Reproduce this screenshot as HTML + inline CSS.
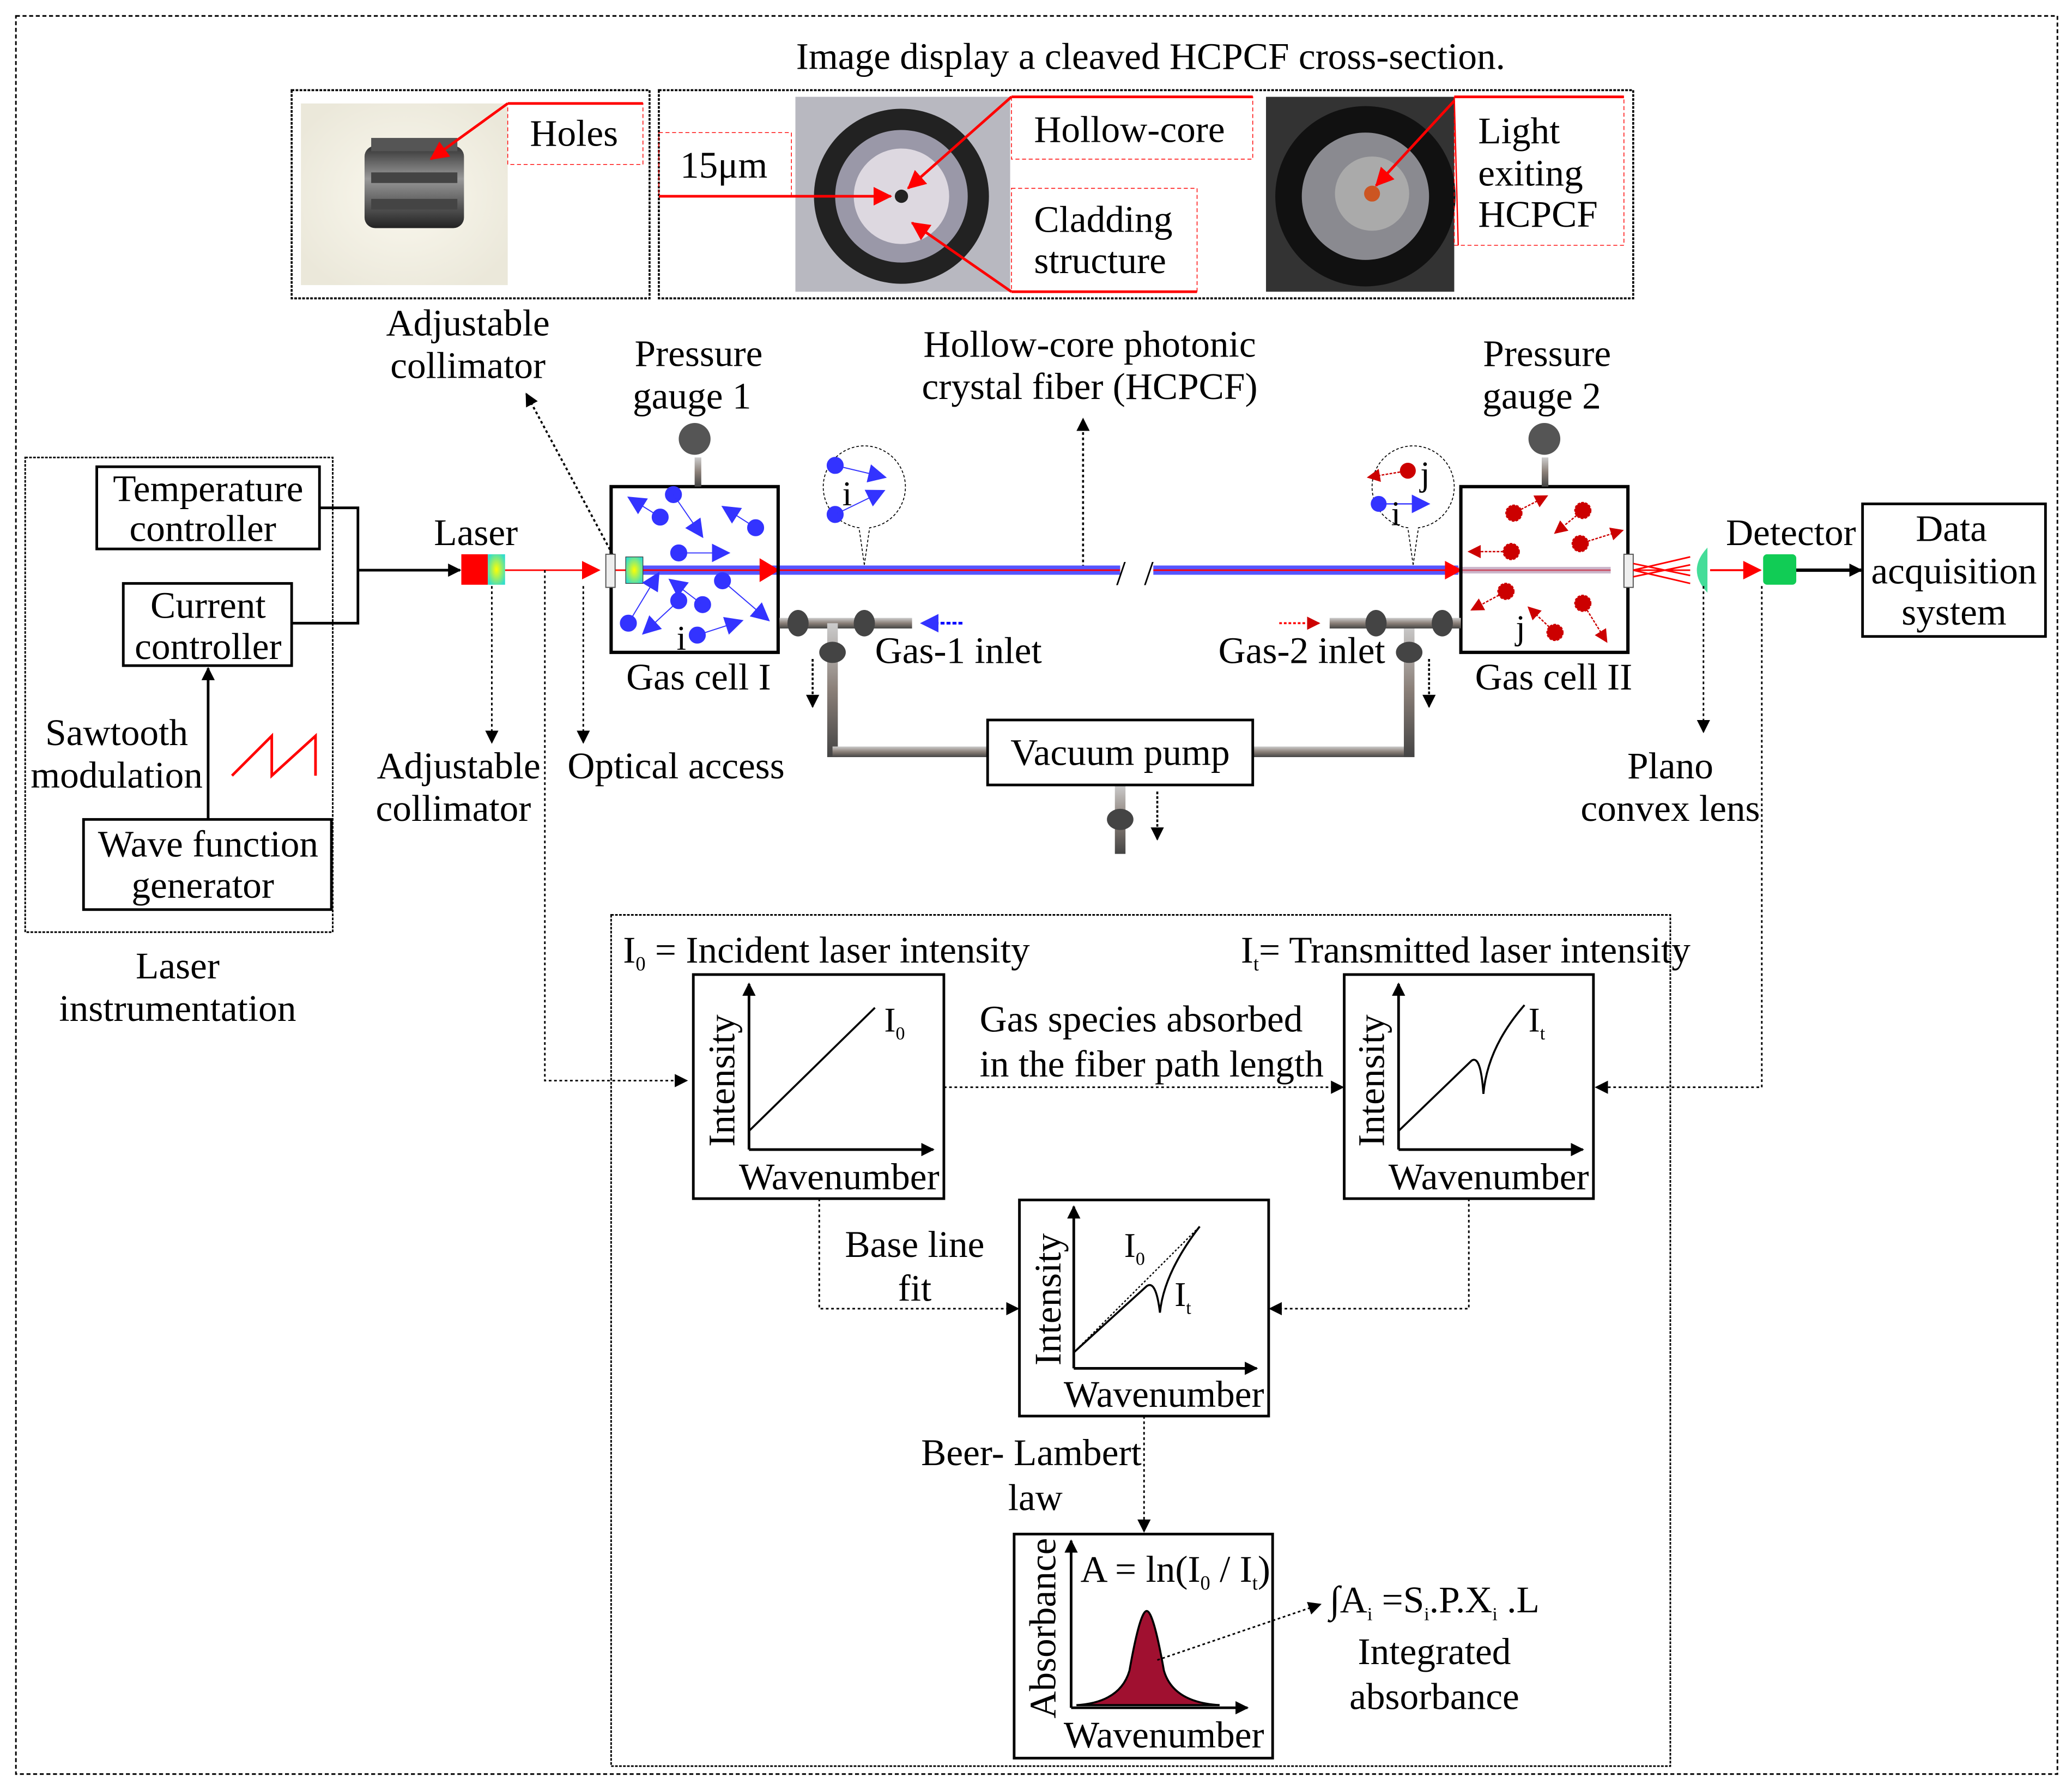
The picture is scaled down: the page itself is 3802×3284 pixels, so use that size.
<!DOCTYPE html>
<html><head><meta charset="utf-8"><style>
html,body{margin:0;padding:0;background:#fff}
svg{display:block}
text{font-family:"Liberation Serif",serif;fill:#000}
text[font-size="26"]{font-size:28.5px}
text[font-size="24"]{font-size:26px}
</style></head><body>
<svg width="3802" height="3284" viewBox="0 0 1563 1350" xmlns="http://www.w3.org/2000/svg">
<defs>
<marker id="ak" markerWidth="10" markerHeight="10" refX="9" refY="5" orient="auto" markerUnits="userSpaceOnUse"><path d="M0,0 L10,5 L0,10z" fill="#000"/></marker>
<marker id="ar" markerWidth="14" markerHeight="14" refX="13" refY="7" orient="auto" markerUnits="userSpaceOnUse"><path d="M0,0 L14,7 L0,14z" fill="#f00"/></marker>
<marker id="ab" markerWidth="14" markerHeight="14" refX="13" refY="7" orient="auto" markerUnits="userSpaceOnUse"><path d="M0,0 L14,7 L0,14z" fill="#33f"/></marker>
<marker id="ard" markerWidth="10" markerHeight="10" refX="9" refY="5" orient="auto" markerUnits="userSpaceOnUse"><path d="M0,0 L10,5 L0,10z" fill="#c00"/></marker>
<radialGradient id="pg" cx="0.5" cy="0.5" r="0.6"><stop offset="0" stop-color="#faf8ee"/><stop offset="1" stop-color="#ebe8da"/></radialGradient>
<linearGradient id="cyl" x1="0" y1="0" x2="0" y2="1"><stop offset="0" stop-color="#333"/><stop offset=".4" stop-color="#999"/><stop offset="1" stop-color="#222"/></linearGradient>
<linearGradient id="pipe" x1="0" y1="0" x2="0" y2="1"><stop offset="0" stop-color="#ccc"/><stop offset=".5" stop-color="#8a7f78"/><stop offset="1" stop-color="#444"/></linearGradient>
<radialGradient id="col" cx=".5" cy=".5" r=".6"><stop offset="0" stop-color="#ff0"/><stop offset="1" stop-color="#3dc"/></radialGradient>
</defs>
<rect width="1563" height="1350" fill="#fff"/>
<rect x="12" y="12" width="1540" height="1326" fill="none" stroke="#000" stroke-width="1.2" stroke-dasharray="3,2"/>

<text x="868" y="52" font-size="26" text-anchor="middle">Image display a cleaved HCPCF cross-section.</text>
<rect x="220" y="68" width="270" height="157" fill="none" stroke="#000" stroke-width="1.5" stroke-dasharray="2,1"/>
<rect x="227" y="78" width="156" height="137" fill="url(#pg)"/>
<rect x="275" y="110" width="75" height="62" rx="8" fill="url(#cyl)"/>
<rect x="280" y="104" width="65" height="10" fill="#555"/><rect x="280" y="130" width="65" height="8" fill="#444"/><rect x="280" y="150" width="65" height="8" fill="#444"/>
<rect x="383" y="78" width="102" height="46" fill="none" stroke="#f00" stroke-width=".6" stroke-dasharray="3,2"/>
<line x1="383" y1="78" x2="485" y2="78" stroke="#f00" stroke-width="2"/>
<line x1="383" y1="78" x2="325" y2="120" stroke="#f00" stroke-width="2" marker-end="url(#ar)"/>
<text x="433" y="110" font-size="26" text-anchor="middle">Holes</text>
<rect x="497" y="68" width="735" height="157" fill="none" stroke="#000" stroke-width="1.5" stroke-dasharray="2,1"/>
<rect x="497" y="100" width="100" height="48" fill="none" stroke="#f00" stroke-width=".6" stroke-dasharray="3,2"/>
<text x="546" y="134" font-size="26" text-anchor="middle">15μm</text>
<rect x="600" y="73" width="162" height="147" fill="#b8b8c0"/>
<circle cx="680" cy="148" r="66" fill="#222"/>
<circle cx="680" cy="148" r="50" fill="#9a98a8"/>
<circle cx="680" cy="148" r="36" fill="#ddd8e0"/>
<circle cx="680" cy="148" r="5" fill="#222"/>
<line x1="497" y1="148" x2="672" y2="148" stroke="#f00" stroke-width="2" marker-end="url(#ar)"/>
<rect x="763" y="73" width="182" height="47" fill="none" stroke="#f00" stroke-width=".6" stroke-dasharray="3,2"/>
<line x1="763" y1="73" x2="945" y2="73" stroke="#f00" stroke-width="2"/>
<line x1="763" y1="73" x2="685" y2="142" stroke="#f00" stroke-width="2" marker-end="url(#ar)"/>
<text x="852" y="107" font-size="26" text-anchor="middle">Hollow-core</text>
<rect x="763" y="142" width="140" height="78" fill="none" stroke="#f00" stroke-width=".6" stroke-dasharray="3,2"/>
<line x1="763" y1="220" x2="903" y2="220" stroke="#f00" stroke-width="2"/>
<line x1="763" y1="220" x2="688" y2="168" stroke="#f00" stroke-width="2" marker-end="url(#ar)"/>
<text x="780" y="175" font-size="26">Cladding</text><text x="780" y="206" font-size="26">structure</text>
<rect x="955" y="73" width="142" height="147" fill="#333"/>
<circle cx="1030" cy="148" r="68" fill="#111"/>
<circle cx="1030" cy="148" r="48" fill="#8a8a90"/>
<circle cx="1035" cy="146" r="28" fill="#aaa"/>
<circle cx="1035" cy="146" r="6" fill="#c52"/>
<rect x="1097" y="73" width="128" height="112" fill="none" stroke="#f00" stroke-width=".6" stroke-dasharray="3,2"/>
<line x1="1097" y1="73" x2="1225" y2="73" stroke="#f00" stroke-width="2"/>
<line x1="1097" y1="73" x2="1100" y2="185" stroke="#f00" stroke-width="1"/>
<line x1="1097" y1="76" x2="1038" y2="140" stroke="#f00" stroke-width="2" marker-end="url(#ar)"/>
<text x="1115" y="108" font-size="26">Light</text><text x="1115" y="140" font-size="26">exiting</text><text x="1115" y="171" font-size="26">HCPCF</text>

<g text-anchor="middle">
<text x="353" y="253" font-size="26">Adjustable</text><text x="353" y="285" font-size="26">collimator</text>
<text x="527" y="276" font-size="26">Pressure</text><text x="522" y="308" font-size="26">gauge 1</text>
<text x="822" y="269" font-size="26">Hollow-core photonic</text><text x="822" y="301" font-size="26">crystal fiber (HCPCF)</text>
<text x="1167" y="276" font-size="26">Pressure</text><text x="1163" y="308" font-size="26">gauge 2</text>
</g>
<line x1="462" y1="418" x2="397" y2="297" stroke="#000" stroke-width="1.5" stroke-dasharray="2,2" marker-end="url(#ak)"/>
<line x1="817" y1="428" x2="817" y2="316" stroke="#000" stroke-width="1.5" stroke-dasharray="2,2" marker-end="url(#ak)"/>

<rect x="19" y="345" width="232" height="358" fill="none" stroke="#000" stroke-width="1.2" stroke-dasharray="2,1"/>
<rect x="73" y="352" width="168" height="62" fill="#fff" stroke="#000" stroke-width="2"/>
<text x="157" y="378" font-size="26" text-anchor="middle">Temperature</text><text x="153" y="408" font-size="26" text-anchor="middle">controller</text>
<rect x="93" y="440" width="127" height="62" fill="#fff" stroke="#000" stroke-width="2"/>
<text x="157" y="466" font-size="26" text-anchor="middle">Current</text><text x="157" y="497" font-size="26" text-anchor="middle">controller</text>
<rect x="63" y="618" width="187" height="68" fill="#fff" stroke="#000" stroke-width="2"/>
<text x="157" y="646" font-size="26" text-anchor="middle">Wave function</text><text x="153" y="677" font-size="26" text-anchor="middle">generator</text>
<text x="88" y="562" font-size="26" text-anchor="middle">Sawtooth</text><text x="88" y="594" font-size="26" text-anchor="middle">modulation</text>
<polyline points="175,585 205,555 205,585 238,555 238,585" fill="none" stroke="#f00" stroke-width="2"/>
<line x1="157" y1="618" x2="157" y2="504" stroke="#000" stroke-width="2" marker-end="url(#ak)"/>
<polyline points="241,383 270,383 270,470 220,470" fill="none" stroke="#000" stroke-width="2"/>
<line x1="270" y1="430" x2="347" y2="430" stroke="#000" stroke-width="2" marker-end="url(#ak)"/>
<text x="134" y="738" font-size="26" text-anchor="middle">Laser</text><text x="134" y="770" font-size="26" text-anchor="middle">instrumentation</text>

<rect x="348" y="418" width="20" height="23" fill="#f00"/>
<rect x="368" y="418" width="13" height="23" fill="url(#col)"/>
<text x="359" y="411" font-size="26" text-anchor="middle">Laser</text>
<line x1="381" y1="430" x2="452" y2="430" stroke="#f00" stroke-width="1.2" marker-end="url(#ar)"/>
<line x1="371" y1="442" x2="371" y2="560" stroke="#000" stroke-width="1.2" stroke-dasharray="2,2" marker-end="url(#ak)"/>
<text x="346" y="587" font-size="26" text-anchor="middle">Adjustable</text><text x="342" y="619" font-size="26" text-anchor="middle">collimator</text>
<polyline points="411,430 411,815 518,815" fill="none" stroke="#000" stroke-width="1.2" stroke-dasharray="2,2" marker-end="url(#ak)"/>
<line x1="440" y1="442" x2="440" y2="560" stroke="#000" stroke-width="1.2" stroke-dasharray="2,2" marker-end="url(#ak)"/>
<text x="510" y="587" font-size="26" text-anchor="middle">Optical access</text>

<line x1="480" y1="430" x2="845" y2="430" stroke="#55f" stroke-width="7"/>
<line x1="870" y1="430" x2="1100" y2="430" stroke="#55f" stroke-width="7"/>
<line x1="462" y1="430" x2="845" y2="430" stroke="#f00" stroke-width="1.2"/>
<line x1="870" y1="430" x2="1215" y2="430" stroke="#f00" stroke-width="1.2"/>
<line x1="1100" y1="430" x2="1215" y2="430" stroke="#a8a" stroke-width="5" opacity=".6"/>
<path d="M573,421 L588,430 L573,439z" fill="#f00"/>
<path d="M1090,423 L1103,430 L1090,437z" fill="#f00"/>
<text x="842" y="441" font-size="24">/</text><text x="863" y="441" font-size="24">/</text>

<rect x="461" y="367" width="126" height="125" fill="none" stroke="#000" stroke-width="2.5"/>
<rect x="524" y="345" width="5" height="22" fill="url(#pipe)"/><circle cx="524" cy="331" r="12" fill="#555"/>
<rect x="457" y="418" width="7" height="25" fill="#eee" stroke="#555" stroke-width=".8"/>
<rect x="472" y="420" width="13" height="20" fill="url(#col)" stroke="#333" stroke-width=".5"/>
<g fill="#33f" stroke="#33f" stroke-width=".8">
<circle cx="498" cy="390" r="6"/><line x1="498" y1="390" x2="474" y2="375" marker-end="url(#ab)"/>
<circle cx="508" cy="373" r="6"/><line x1="508" y1="373" x2="530" y2="405" marker-end="url(#ab)"/>
<circle cx="570" cy="398" r="6"/><line x1="570" y1="398" x2="545" y2="382" marker-end="url(#ab)"/>
<circle cx="512" cy="417" r="6"/><line x1="512" y1="417" x2="550" y2="417" marker-end="url(#ab)"/>
<circle cx="545" cy="438" r="6"/><line x1="545" y1="438" x2="580" y2="468" marker-end="url(#ab)"/>
<circle cx="530" cy="456" r="6"/><line x1="530" y1="456" x2="505" y2="437" marker-end="url(#ab)"/>
<circle cx="512" cy="453" r="6"/><line x1="512" y1="453" x2="485" y2="478" marker-end="url(#ab)"/>
<circle cx="474" cy="470" r="6"/><line x1="474" y1="470" x2="497" y2="432" marker-end="url(#ab)"/>
<circle cx="526" cy="479" r="6"/><line x1="526" y1="479" x2="560" y2="468" marker-end="url(#ab)"/>
</g>
<text x="514" y="490" font-size="24" text-anchor="middle">i</text>
<path d="M652,426 L648,398 A31,31 0 1 1 656,398 Z" fill="none" stroke="#000" stroke-width=".7" stroke-dasharray="2,1.5"/>
<g fill="#33f" stroke="#33f" stroke-width=".8">
<circle cx="630" cy="351" r="6"/><line x1="630" y1="351" x2="668" y2="360" marker-end="url(#ab)"/>
<circle cx="630" cy="388" r="6"/><line x1="630" y1="388" x2="667" y2="370" marker-end="url(#ab)"/>
</g>
<text x="639" y="381" font-size="24" text-anchor="middle">i</text>

<rect x="1102" y="367" width="126" height="125" fill="none" stroke="#000" stroke-width="2.5"/>
<rect x="1163" y="345" width="5" height="22" fill="url(#pipe)"/><circle cx="1165" cy="331" r="12" fill="#555"/>
<rect x="1225" y="418" width="7" height="25" fill="#eee" stroke="#555" stroke-width=".8"/>
<g fill="#c00" stroke="#c00" stroke-width="1" stroke-dasharray="2,1">
<circle cx="1142" cy="387" r="6"/><line x1="1142" y1="387" x2="1167" y2="374" marker-end="url(#ard)"/>
<circle cx="1194" cy="385" r="6"/><line x1="1194" y1="385" x2="1173" y2="402" marker-end="url(#ard)"/>
<circle cx="1192" cy="410" r="6"/><line x1="1192" y1="410" x2="1224" y2="400" marker-end="url(#ard)"/>
<circle cx="1140" cy="416" r="6"/><line x1="1140" y1="416" x2="1108" y2="416" marker-end="url(#ard)"/>
<circle cx="1136" cy="446" r="6"/><line x1="1136" y1="446" x2="1110" y2="460" marker-end="url(#ard)"/>
<circle cx="1173" cy="477" r="6"/><line x1="1173" y1="477" x2="1153" y2="458" marker-end="url(#ard)"/>
<circle cx="1194" cy="455" r="6"/><line x1="1194" y1="455" x2="1212" y2="484" marker-end="url(#ard)"/>
</g>
<text x="1147" y="482" font-size="24" text-anchor="middle">j</text>
<path d="M1066,426 L1062,398 A31,31 0 1 1 1070,398 Z" fill="none" stroke="#000" stroke-width=".7" stroke-dasharray="2,1.5"/>
<circle cx="1062" cy="355" r="6" fill="#c00"/><line x1="1062" y1="355" x2="1032" y2="360" stroke="#c00" stroke-dasharray="2,1" marker-end="url(#ard)"/>
<circle cx="1040" cy="380" r="6" fill="#33f"/><line x1="1040" y1="380" x2="1078" y2="380" stroke="#33f" marker-end="url(#ab)"/>
<text x="1075" y="366" font-size="24" text-anchor="middle">j</text><text x="1053" y="396" font-size="24" text-anchor="middle">i</text>

<g fill="url(#pipe)">
<rect x="588" y="466" width="100" height="8"/>
<rect x="624" y="470" width="8" height="101"/>
<rect x="628" y="563" width="117" height="8"/>
<rect x="945" y="563" width="122" height="8"/>
<rect x="1059" y="470" width="8" height="101"/>
<rect x="1003" y="466" width="99" height="8"/>
<rect x="841" y="592" width="8" height="52"/>
</g>
<g fill="#444">
<ellipse cx="602" cy="470" rx="8" ry="10"/><ellipse cx="652" cy="470" rx="8" ry="10"/><ellipse cx="628" cy="492" rx="10" ry="8"/>
<ellipse cx="1038" cy="470" rx="8" ry="10"/><ellipse cx="1088" cy="470" rx="8" ry="10"/><ellipse cx="1063" cy="492" rx="10" ry="8"/>
<ellipse cx="845" cy="618" rx="10" ry="8"/>
</g>
<line x1="613" y1="497" x2="613" y2="533" stroke="#000" stroke-width="1.5" stroke-dasharray="2,1.5" marker-end="url(#ak)"/>
<line x1="1078" y1="497" x2="1078" y2="533" stroke="#000" stroke-width="1.5" stroke-dasharray="2,1.5" marker-end="url(#ak)"/>
<line x1="873" y1="597" x2="873" y2="633" stroke="#000" stroke-width="1.5" stroke-dasharray="2,1.5" marker-end="url(#ak)"/>
<rect x="745" y="543" width="200" height="49" fill="#fff" stroke="#000" stroke-width="2"/>
<text x="845" y="577" font-size="26" text-anchor="middle">Vacuum pump</text>
<line x1="726" y1="470" x2="695" y2="470" stroke="#00f" stroke-width="2" stroke-dasharray="3,1.5" marker-end="url(#ab)"/>
<text x="723" y="500" font-size="26" text-anchor="middle">Gas-1 inlet</text>
<line x1="965" y1="470" x2="995" y2="470" stroke="#f00" stroke-width="1.5" stroke-dasharray="2,1.5" marker-end="url(#ard)"/>
<text x="982" y="500" font-size="26" text-anchor="middle">Gas-2 inlet</text>
<text x="527" y="520" font-size="26" text-anchor="middle">Gas cell I</text>
<text x="1172" y="520" font-size="26" text-anchor="middle">Gas cell II</text>

<g stroke="#f00" stroke-width="1.2"><line x1="1232" y1="430" x2="1275" y2="420"/><line x1="1232" y1="430" x2="1275" y2="440"/><line x1="1232" y1="430" x2="1275" y2="430"/><line x1="1232" y1="425" x2="1275" y2="434"/><line x1="1232" y1="435" x2="1275" y2="426"/></g>
<path d="M1288,413 Q1272,430 1288,447 Z" fill="#4d9"/>
<line x1="1285" y1="442" x2="1285" y2="552" stroke="#000" stroke-width="1.2" stroke-dasharray="2,2" marker-end="url(#ak)"/>
<text x="1260" y="587" font-size="26" text-anchor="middle">Plano</text><text x="1260" y="619" font-size="26" text-anchor="middle">convex lens</text>
<line x1="1290" y1="430" x2="1328" y2="430" stroke="#f00" stroke-width="1.5" marker-end="url(#ar)"/>
<rect x="1330" y="418" width="25" height="23" rx="3" fill="#1c5"/>
<text x="1351" y="411" font-size="26" text-anchor="middle">Detector</text>
<line x1="1355" y1="430" x2="1404" y2="430" stroke="#000" stroke-width="2.5" marker-end="url(#ak)"/>
<rect x="1405" y="380" width="138" height="100" fill="#fff" stroke="#000" stroke-width="2"/>
<text x="1472" y="408" font-size="26" text-anchor="middle">Data</text><text x="1474" y="440" font-size="26" text-anchor="middle">acquisition</text><text x="1474" y="471" font-size="26" text-anchor="middle">system</text>
<polyline points="1329,442 1329,820 1204,820" fill="none" stroke="#000" stroke-width="1.2" stroke-dasharray="2,2" marker-end="url(#ak)"/>

<rect x="461" y="690" width="799" height="642" fill="none" stroke="#000" stroke-width="1.2" stroke-dasharray="2,1"/>
<text x="470" y="726" font-size="26">I<tspan font-size="15" dy="6">0</tspan><tspan dy="-6"> = Incident laser intensity</tspan></text>
<text x="936" y="726" font-size="26">I<tspan font-size="15" dy="6">t</tspan><tspan dy="-6">= Transmitted laser intensity</tspan></text>
<rect x="523" y="735" width="189" height="169" fill="#fff" stroke="#000" stroke-width="2"/>
<line x1="565" y1="867" x2="565" y2="742" stroke="#000" stroke-width="2" marker-end="url(#ak)"/>
<line x1="565" y1="867" x2="704" y2="867" stroke="#000" stroke-width="2" marker-end="url(#ak)"/>
<line x1="565" y1="853" x2="660" y2="760" stroke="#000" stroke-width="1.5"/>
<text x="667" y="778" font-size="24">I<tspan font-size="14" dy="6">0</tspan></text>
<text transform="translate(554,815) rotate(-90)" font-size="26" text-anchor="middle">Intensity</text>
<text x="633" y="897" font-size="26" text-anchor="middle">Wavenumber</text>
<rect x="1014" y="735" width="188" height="169" fill="#fff" stroke="#000" stroke-width="2"/>
<line x1="1055" y1="867" x2="1055" y2="742" stroke="#000" stroke-width="2" marker-end="url(#ak)"/>
<line x1="1055" y1="867" x2="1194" y2="867" stroke="#000" stroke-width="2" marker-end="url(#ak)"/>
<path d="M1055,853 L1110,800 Q1117,795 1119,825 Q1122,790 1150,758" fill="none" stroke="#000" stroke-width="1.5"/>
<text x="1153" y="778" font-size="24">I<tspan font-size="14" dy="6">t</tspan></text>
<text transform="translate(1044,815) rotate(-90)" font-size="26" text-anchor="middle">Intensity</text>
<text x="1123" y="897" font-size="26" text-anchor="middle">Wavenumber</text>
<line x1="712" y1="820" x2="1013" y2="820" stroke="#000" stroke-width="1.2" stroke-dasharray="2,2" marker-end="url(#ak)"/>
<text x="739" y="778" font-size="26">Gas species absorbed</text><text x="739" y="812" font-size="26">in the fiber path length</text>
<rect x="769" y="905" width="188" height="163" fill="#fff" stroke="#000" stroke-width="2"/>
<line x1="810" y1="1032" x2="810" y2="910" stroke="#000" stroke-width="2" marker-end="url(#ak)"/>
<line x1="810" y1="1032" x2="948" y2="1032" stroke="#000" stroke-width="2" marker-end="url(#ak)"/>
<line x1="810" y1="1020" x2="905" y2="925" stroke="#000" stroke-width="1" stroke-dasharray="1.5,1.5"/>
<path d="M810,1020 L865,970 Q872,965 875,990 Q878,960 905,925" fill="none" stroke="#000" stroke-width="1.5"/>
<text x="848" y="948" font-size="24">I<tspan font-size="14" dy="6">0</tspan></text>
<text x="886" y="985" font-size="24">I<tspan font-size="14" dy="6">t</tspan></text>
<text transform="translate(800,980) rotate(-90)" font-size="26" text-anchor="middle">Intensity</text>
<text x="878" y="1061" font-size="26" text-anchor="middle">Wavenumber</text>
<polyline points="618,904 618,987 768,987" fill="none" stroke="#000" stroke-width="1.2" stroke-dasharray="2,2" marker-end="url(#ak)"/>
<polyline points="1108,904 1108,987 958,987" fill="none" stroke="#000" stroke-width="1.2" stroke-dasharray="2,2" marker-end="url(#ak)"/>
<text x="690" y="948" font-size="26" text-anchor="middle">Base line</text><text x="690" y="981" font-size="26" text-anchor="middle">fit</text>
<text x="778" y="1105" font-size="26" text-anchor="middle">Beer- Lambert</text><text x="781" y="1139" font-size="26" text-anchor="middle">law</text>
<line x1="863" y1="1068" x2="863" y2="1155" stroke="#000" stroke-width="1.2" stroke-dasharray="2,2" marker-end="url(#ak)"/>
<rect x="765" y="1157" width="195" height="169" fill="#fff" stroke="#000" stroke-width="2"/>
<line x1="808" y1="1288" x2="808" y2="1162" stroke="#000" stroke-width="2" marker-end="url(#ak)"/>
<line x1="808" y1="1288" x2="941" y2="1288" stroke="#000" stroke-width="2" marker-end="url(#ak)"/>
<path d="M812,1286 Q845,1284 852,1260 Q860,1215 865,1215 Q870,1215 878,1260 Q885,1284 920,1286 Z" fill="#a01030" stroke="#000" stroke-width="1.5"/>
<text x="815" y="1193" font-size="26">A = ln(I<tspan font-size="15" dy="6">0</tspan><tspan dy="-6"> / I</tspan><tspan font-size="15" dy="6">t</tspan><tspan dy="-6">)</tspan></text>
<text transform="translate(796,1228) rotate(-90)" font-size="26" text-anchor="middle">Absorbance</text>
<text x="878" y="1318" font-size="26" text-anchor="middle">Wavenumber</text>
<line x1="873" y1="1252" x2="996" y2="1210" stroke="#000" stroke-width="1.2" stroke-dasharray="2,2" marker-end="url(#ak)"/>
<text x="1003" y="1216" font-size="26">∫A<tspan font-size="14" dy="6">i</tspan><tspan dy="-6"> =S</tspan><tspan font-size="14" dy="6">i</tspan><tspan dy="-6">.P.X</tspan><tspan font-size="14" dy="6">i</tspan><tspan dy="-6"> .L</tspan></text>
<text x="1082" y="1255" font-size="26" text-anchor="middle">Integrated</text><text x="1082" y="1289" font-size="26" text-anchor="middle">absorbance</text>
</svg>
</body></html>
